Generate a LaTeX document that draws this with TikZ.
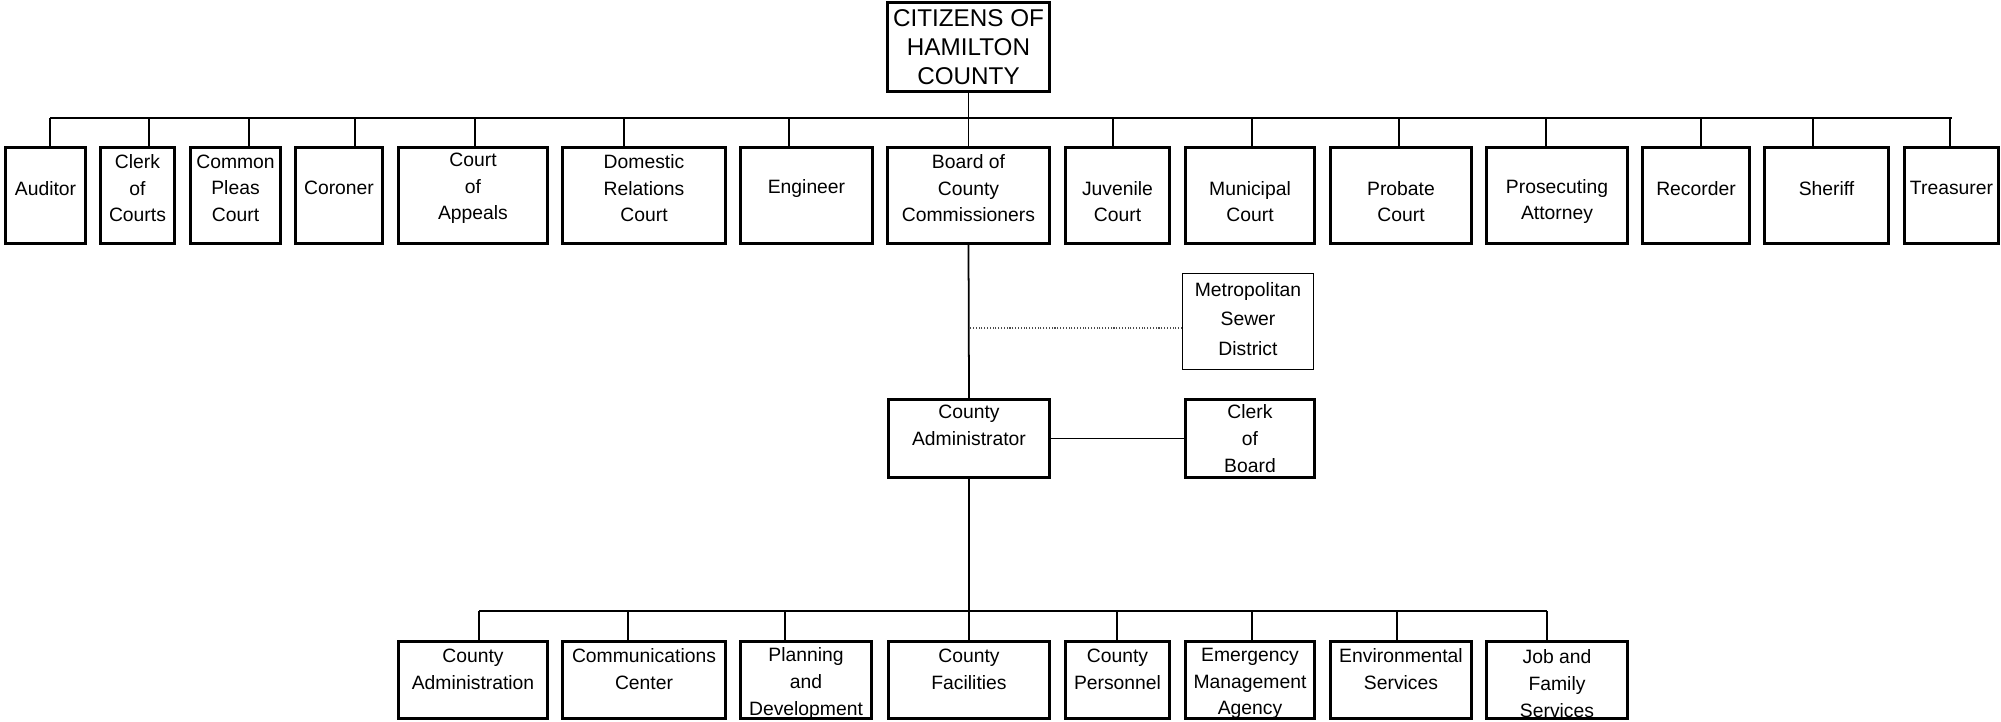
\documentclass[tikz,border=0pt]{standalone}
\usepackage{fontspec}
\setmainfont{Liberation Sans}
\usepackage{tikz}
\usetikzlibrary{fit}

\begin{document}
\begin{tikzpicture}[x=0.02cm, y=-0.02cm,
  org/.style={draw, line width=1.9pt, inner sep=-0.033cm},
  thin box/.style={draw, line width=0.75pt, inner sep=-0.013cm},
  wire/.style={line width=1pt},
  dots/.style={densely dotted, line width=0.6pt, black!70},
  txt/.style={font=\fontsize{11}{15.2}\selectfont, align=center, inner sep=0pt},
  msdtxt/.style={txt, font=\fontsize{11}{16.8}\selectfont, yshift=0.05cm},
  bigtxt/.style={txt, font=\fontsize{13.8}{16.5}\selectfont},
  hi/.style={label={[txt, yshift=0.145cm]center:#1}},
  lo/.style={label={[txt, yshift=-0.12cm]center:#1}},
  up/.style={label={[txt, yshift=0.27cm]center:#1}},
  uplow/.style={label={[txt, yshift=0.22cm]center:#1}},
  mid/.style={label={[txt]center:#1}},
  midlow/.style={label={[txt, yshift=-0.07cm]center:#1}}]
  \useasboundingbox (0,0) rectangle (2001,721);

  % Citizens at the top
  \node[org, fit={(886,1) (1051,93)},
        label={[bigtxt]center:CITIZENS OF\\HAMILTON\\COUNTY}] (cit) {};

  % Elected offices
  \node[org, fit={(4,146) (87,245)}, hi=Auditor] (aud) {};
  \node[org, fit={(99,146) (176,245)}, hi={Clerk\\of\\Courts}] (clk) {};
  \node[org, fit={(189,146) (282,245)}, hi={Common\\Pleas\\Court}] (cpc) {};
  \node[org, fit={(294,146) (384,245)}, hi=Coroner] (cor) {};
  \node[org, fit={(397,146) (549,245)}, hi={Court\\of\\Appeals}] (coa) {};
  \node[org, fit={(561,146) (727,245)}, hi={Domestic\\Relations\\Court}] (drc) {};
  \node[org, fit={(739,146) (874,245)}, hi=Engineer] (eng) {};
  \node[org, fit={(886,146) (1051,245)}, hi={Board of\\County\\Commissioners}] (bcc) {};
  \node[org, fit={(1064,146) (1171,245)}, lo={Juvenile\\Court}] (juv) {};
  \node[org, fit={(1184,146) (1316,245)}, lo={Municipal\\Court}] (mun) {};
  \node[org, fit={(1329,146) (1473,245)}, lo={Probate\\Court}] (prb) {};
  \node[org, fit={(1485,146) (1629,245)}, lo={Prosecuting\\Attorney}] (pra) {};
  \node[org, fit={(1641,146) (1751,245)}, hi=Recorder] (rec) {};
  \node[org, fit={(1763,146) (1890,245)}, hi=Sheriff] (shf) {};
  \node[org, fit={(1903,146) (2000,245)}, hi=Treasurer] (trs) {};

  % Bus to the elected offices
  \coordinate (busL) at (50,118);
  \coordinate (busR) at (1952,118);
  \draw[wire] (busL) -- (busR);
  \draw[wire] (cit.south) -- (bcc.north);
  \foreach \n/\x in {aud/50, clk/149, cpc/249, cor/355, coa/475, drc/624,
                     eng/789, juv/1113, mun/1252, prb/1399, pra/1546,
                     rec/1701, shf/1813, trs/1950}
    \draw[wire] (\x,0 |- busL) -- (\n.north -| \x,0);

  % Administrator and side offices
  \node[thin box, fit={(1182,273) (1314,370)},
        label={[msdtxt]center:Metropolitan\\Sewer\\District}] (msd) {};
  \node[org, fit={(887,398) (1051,479)}, up={County\\Administrator}] (cad) {};
  \node[org, fit={(1184,398) (1316,479)}, mid={Clerk\\of\\Board}] (cob) {};
  \draw[wire] (bcc.south) -- (cad.north);
  \coordinate (msdtap) at ([yshift=-0.13cm]msd.west);
  \draw[dots] (msdtap) -- (bcc.south |- msdtap);
  \draw[wire] (cad.east) -- (cob.west);

  % Departments
  \node[org, fit={(397,640) (549,720)}, uplow={County\\Administration}] (cas) {};
  \node[org, fit={(561,640) (727,720)}, uplow={Communications\\Center}] (ccc) {};
  \node[org, fit={(739,640) (873,720)}, midlow={Planning\\and\\Development}] (pnd) {};
  \node[org, fit={(887,640) (1051,720)}, uplow={County\\Facilities}] (cfa) {};
  \node[org, fit={(1064,640) (1171,720)}, uplow={County\\Personnel}] (cpe) {};
  \node[org, fit={(1184,640) (1316,720)}, midlow={Emergency\\Management\\Agency}] (ema) {};
  \node[org, fit={(1329,640) (1473,720)}, uplow={Environmental\\Services}] (env) {};
  \node[org, fit={(1485,640) (1629,720)}, midlow={Job and\\Family\\Services}] (jfs) {};

  % Bus to the departments
  \coordinate (lowL) at (479,611);
  \coordinate (lowR) at (1547,611);
  \draw[wire] (lowL) -- (lowR);
  \draw[wire] (cad.south) -- (cfa.north);
  \foreach \n/\x in {cas/479, ccc/628, pnd/785, cpe/1117, ema/1252,
                     env/1397, jfs/1547}
    \draw[wire] (\x,0 |- lowL) -- (\n.north -| \x,0);
\end{tikzpicture}
\end{document}
